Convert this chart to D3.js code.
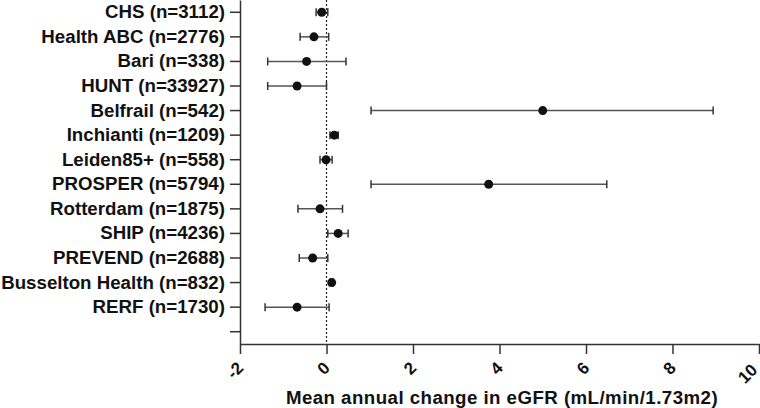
<!DOCTYPE html>
<html>
<head>
<meta charset="utf-8">
<script src="https://cdn.jsdelivr.net/npm/d3@7"></script>
<style>
  body { margin: 0; background: #fff; }
  svg { display: block; font-family: "Liberation Sans", Arial, sans-serif; font-weight: bold; }
</style>
</head>
<body>
<svg id="chart" width="760" height="408"></svg>
<script>
// studies, top to bottom (last row is an empty slot, as in the original)
const studies = [
  "CHS (n=3112)", "Health ABC (n=2776)", "Bari (n=338)", "HUNT (n=33927)",
  "Belfrail (n=542)", "Inchianti (n=1209)", "Leiden85+ (n=558)", "PROSPER (n=5794)",
  "Rotterdam (n=1875)", "SHIP (n=4236)", "PREVEND (n=2688)",
  "Busselton Health (n=832)", "RERF (n=1730)"
];
// mean annual change in eGFR and its CI
const means = [-0.11, -0.29, -0.46, -0.68, 5.00, 0.18, -0.01, 3.75, -0.15, 0.27, -0.32, 0.12, -0.68];
const lower = [-0.24, -0.61, -1.36, -1.36, 1.03, 0.08, -0.15, 1.03, -0.66, 0.03, -0.63, 0.08, -1.42];
const upper = [0.03, 0.05, 0.45, 0.00, 8.94, 0.27, 0.13, 6.48, 0.37, 0.50, 0.03, 0.16, 0.06];
const xTicks = [-2, 0, 2, 4, 6, 8, 10];

const margin = {top: 0, right: 1, bottom: 64, left: 240};
const width = 760 - margin.left - margin.right;
const height = 408 - margin.top - margin.bottom;

const svg = d3.select("#chart");
const g = svg.append("g").attr("transform", `translate(${margin.left},${margin.top})`);

const rows = studies.concat([""]);
const y = d3.scaleBand().domain(rows.map((d, i) => i)).range([0, height]);
const x = d3.scaleLinear().domain([-2, 10]).range([0, width]);
const yc = i => y(i) + y.bandwidth() / 2;

// zero reference line
g.append("line")
  .attr("x1", x(0)).attr("x2", x(0))
  .attr("y1", 0).attr("y2", height)
  .attr("stroke", "#222").attr("stroke-width", 1.2)
  .attr("stroke-dasharray", "2,2");

// x axis
const xAxis = g.append("g")
  .attr("transform", `translate(0,${height})`)
  .call(d3.axisBottom(x).tickValues(xTicks).tickSize(10).tickSizeOuter(0).tickFormat(d => String(d)));
xAxis.select(".domain").attr("stroke", "#333").attr("stroke-width", 1.5);
xAxis.selectAll(".tick line").attr("stroke", "#333").attr("stroke-width", 1.5);
// rotated labels; the last one is pulled in a little so it stays inside the frame
xAxis.selectAll(".tick text")
  .attr("font-size", 17).attr("font-weight", "bold").attr("fill", "#111")
  .attr("text-anchor", "end")
  .attr("x", 0).attr("y", 0).attr("dy", null)
  .attr("transform", d => d === 10 ? "translate(-1,27) rotate(-45)" : "translate(4,25) rotate(-45)");

// y axis
const yAxis = g.append("g")
  .call(d3.axisLeft(y).tickSize(10).tickSizeOuter(0).tickFormat(i => rows[i]));
yAxis.select(".domain").attr("stroke", "#333").attr("stroke-width", 1.5);
yAxis.selectAll(".tick line").attr("stroke", "#333").attr("stroke-width", 1.5);
yAxis.selectAll(".tick text")
  .attr("font-size", 18.7).attr("font-weight", "bold").attr("fill", "#111")
  .attr("x", -15);

// error bars
const bars = g.append("g").selectAll("g").data(studies).join("g");
bars.append("line")
  .attr("x1", (d, i) => x(lower[i])).attr("x2", (d, i) => x(upper[i]))
  .attr("y1", (d, i) => yc(i)).attr("y2", (d, i) => yc(i))
  .attr("stroke", "#555").attr("stroke-width", 1.5);
[lower, upper].forEach(arr => {
  bars.append("line")
    .attr("x1", (d, i) => x(arr[i])).attr("x2", (d, i) => x(arr[i]))
    .attr("y1", (d, i) => yc(i) - 4).attr("y2", (d, i) => yc(i) + 4)
    .attr("stroke", "#333").attr("stroke-width", 1.5);
});
bars.append("circle")
  .attr("cx", (d, i) => x(means[i])).attr("cy", (d, i) => yc(i))
  .attr("r", 4.5).attr("fill", "#111");

// axis title
svg.append("text")
  .attr("x", 502).attr("y", 404)
  .attr("text-anchor", "middle").attr("font-size", 18.7).attr("fill", "#111")
  .attr("letter-spacing", 0.45)
  .text("Mean annual change in eGFR (mL/min/1.73m2)");
</script>
</body>
</html>
